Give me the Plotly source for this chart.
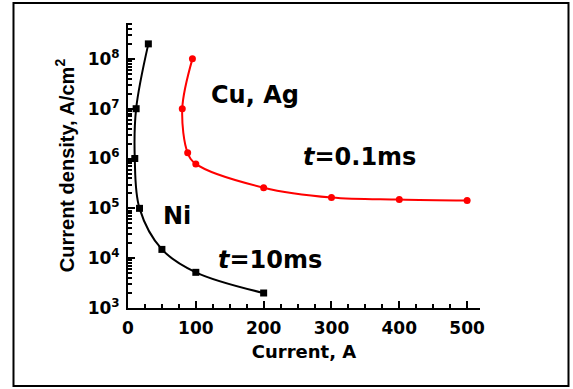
import plotly.graph_objects as go

# Ni, t = 10 ms
ni_current = [30, 12, 10, 17, 50, 100, 200]
ni_density = [2e8, 1e7, 1e6, 1e5, 1.5e4, 5.2e3, 2e3]

# Cu, Ag, t = 0.1 ms
cu_current = [95, 80, 88, 100, 200, 300, 400, 500]
cu_density = [1e8, 1e7, 1.3e6, 7.8e5, 2.6e5, 1.65e5, 1.5e5, 1.43e5]

x_ticks = [0, 100, 200, 300, 400, 500]
y_tick_exps = [3, 4, 5, 6, 7, 8]

FONT = "DejaVu Sans"
FONT2 = "Liberation Sans"

fig = go.Figure()
fig.add_trace(go.Scatter(
    x=ni_current, y=ni_density, mode="lines+markers",
    line=dict(color="black", width=2, shape="spline", smoothing=1.0),
    marker=dict(symbol="square", size=7, color="black"),
    showlegend=False,
))
fig.add_trace(go.Scatter(
    x=cu_current, y=cu_density, mode="lines+markers",
    line=dict(color="#ff0000", width=2, shape="spline", smoothing=1.0),
    marker=dict(symbol="circle", size=7, color="#ff0000"),
    showlegend=False,
))

minor_y = [m * 10 ** e for e in range(3, 9) for m in range(2, 10)]

fig.update_xaxes(
    range=[0, 519], showline=True, linecolor="black", linewidth=2,
    showgrid=False, zeroline=False,
    tickmode="array", tickvals=x_ticks, ticktext=[f"<b>{v}</b>" for v in x_ticks],
    ticks="inside", ticklen=7, tickwidth=2, tickcolor="black",
    minor=dict(dtick=25, ticks="inside", ticklen=4, tickwidth=1.5, tickcolor="black", showgrid=False),
    tickfont=dict(family=FONT, size=17, color="black"),
    ticklabelstandoff=4,
    title=dict(text="<b>Current, A</b>", font=dict(family=FONT, size=18, color="black"), standoff=8),
)
fig.update_yaxes(
    type="log", range=[3, 8.72], showline=True, linecolor="black", linewidth=2,
    showgrid=False, zeroline=False,
    tickmode="array", tickvals=[10 ** e for e in y_tick_exps],
    ticktext=[f"<b>10<sup>{e}</sup></b>" for e in y_tick_exps],
    ticks="inside", ticklen=7, tickwidth=2, tickcolor="black",
    minor=dict(tickmode="array", tickvals=minor_y, ticks="inside", ticklen=4, tickwidth=1.5, tickcolor="black", showgrid=False),
    tickfont=dict(family=FONT, size=17, color="black"),
    ticklabelstandoff=3,
    title=dict(text="<b>Current density, A/cm<sup>2</sup></b>", font=dict(family=FONT2, size=20, color="black"), standoff=8),
)

ann_font = dict(family=FONT, size=24, color="black")
fig.add_annotation(x=187, y=7.28, text="<b>Cu, Ag</b>", showarrow=False, font=ann_font, xanchor="center", yanchor="middle")
fig.add_annotation(x=342, y=6.03, text="<b><i>t</i>=0.1ms</b>", showarrow=False, font=ann_font, xanchor="center", yanchor="middle")
fig.add_annotation(x=72, y=4.85, text="<b>Ni</b>", showarrow=False, font=ann_font, xanchor="center", yanchor="middle")
fig.add_annotation(x=209, y=3.96, text="<b><i>t</i>=10ms</b>", showarrow=False, font=ann_font, xanchor="center", yanchor="middle")

# outer frame
fig.add_shape(type="rect", xref="paper", yref="paper",
              x0=-0.3253, x1=1.2514, y0=-0.2737, y1=1.0702,
              line=dict(color="black", width=2), fillcolor="rgba(0,0,0,0)")

fig.update_layout(
    width=573, height=389,
    margin=dict(l=128, r=93, t=23, b=81),
    paper_bgcolor="white", plot_bgcolor="white",
    font=dict(family=FONT, color="black"),
)

fig.write_html("out.html")
